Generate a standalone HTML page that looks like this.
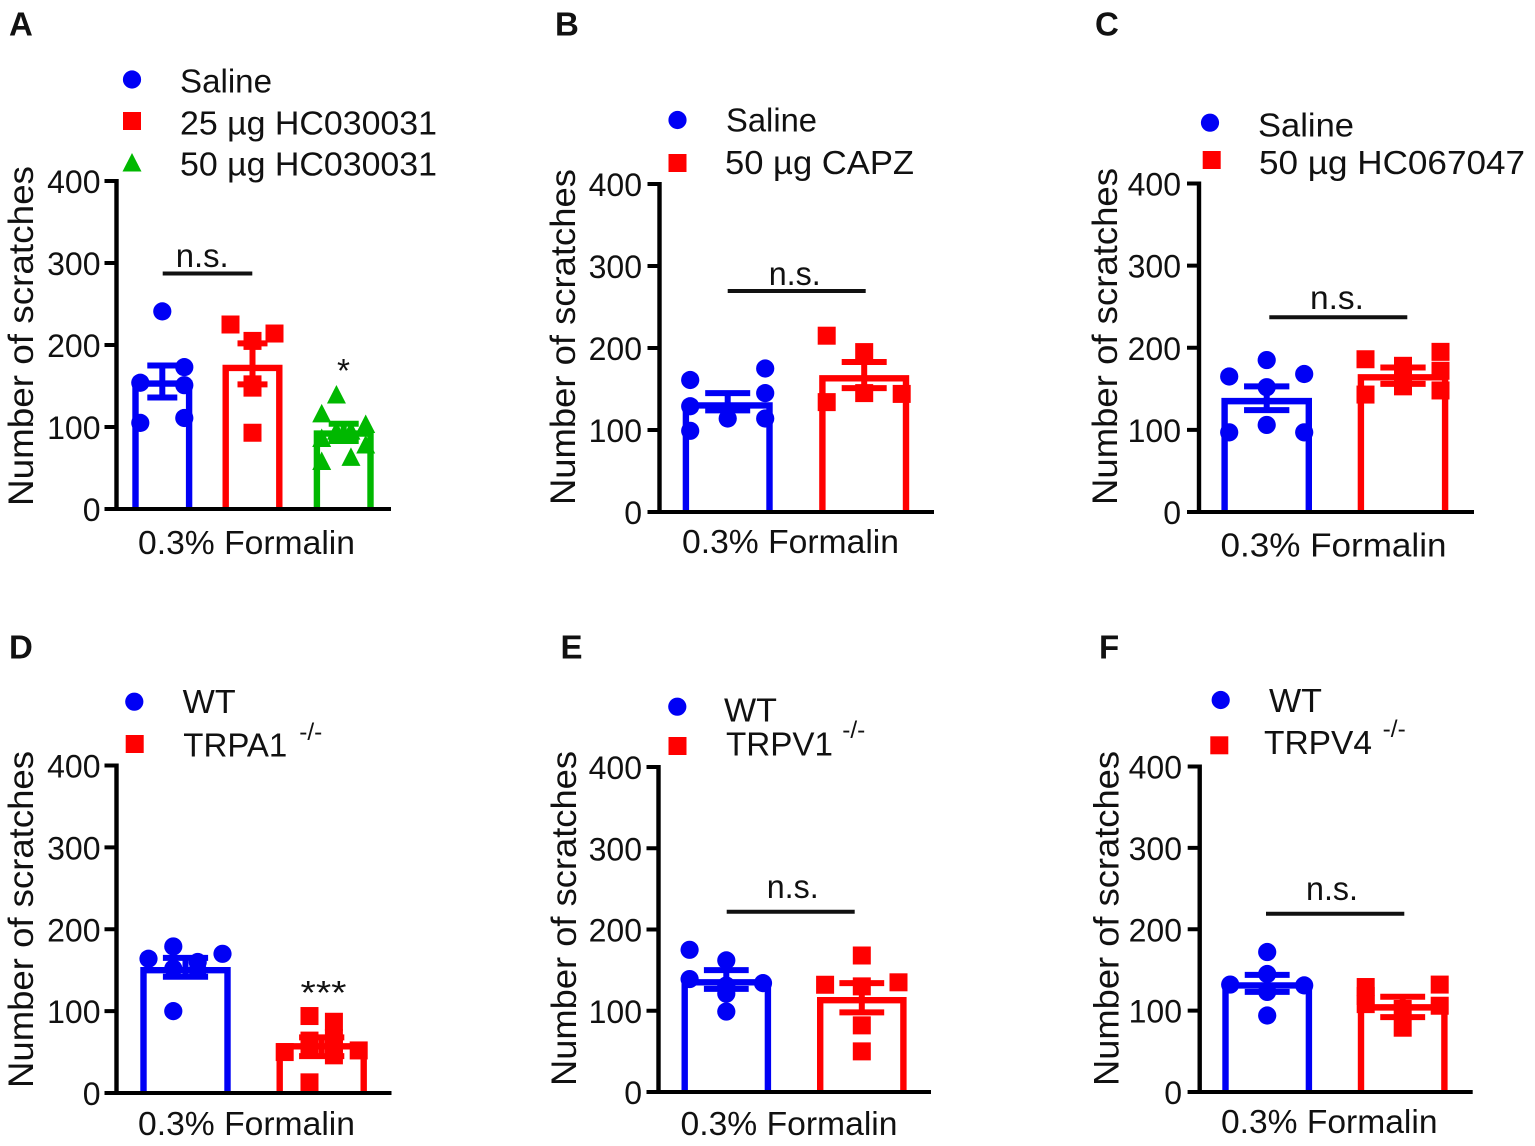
<!DOCTYPE html>
<html lang="en">
<head>
<meta charset="utf-8">
<title>Number of scratches after 0.3% formalin</title>
<style>
html,body{margin:0;padding:0;background:#fff;width:1535px;height:1146px;overflow:hidden}
svg{display:block}
text{font-family:"Liberation Sans",Arial,sans-serif;fill:#111}
</style>
</head>
<body>
<svg id="fig" xmlns="http://www.w3.org/2000/svg" width="1535" height="1146" viewBox="0 0 1535 1146"></svg>
<script>
// Shared axis data
const tickValues = [0, 100, 200, 300, 400];
const tickLabels = ['0', '100', '200', '300', '400'];

// Panel A
const aSaline = [241, 173, 154, 151, 105, 111];
const aSalineSlots = [0, 1, -1, 1, -1, 1];
const aLow = [225, 214, 205, 152, 148, 93];
const aLowSlots = [-1, 1, 0, 0, 0, 0];
const aHigh = [139, 116, 103, 95, 95, 86, 78, 58, 63];
const aHighSlots = [-0.33, -1, 1, 0.33, -0.33, -1, 1, -1, 0.33];
const aMeans = [153, 172, 92];
const aUpper = [175, 202, 104];
const aLower = [136, 152, 83];

// Panel B
const bSaline = [161, 175, 145, 129, 114, 114, 99];
const bSalineSlots = [-1, 1, 1, -1, 0, 1, -1];
const bCapz = [215, 195, 145, 144, 134];
const bCapzSlots = [-1, 0, 0, 1, -1];
const bMeans = [130, 163];
const bUpper = [145, 183];
const bLower = [124, 151];

// Panel C
const cSaline = [165, 185, 168, 152, 106, 97, 97];
const cSalineSlots = [-1, 0, 1, 0, 0, -1, 1];
const cDrug = [186, 195, 178, 168, 153, 172, 143, 148];
const cDrugSlots = [-1, 1, 0, 0, 0, 1, -1, 1];
const cMeans = [135, 164];
const cUpper = [153, 176];
const cLower = [124, 156];

// Panel D
const dWild = [164, 179, 170, 160, 152, 150, 100];
const dWildSlots = [-1, -0.33, 1, 0.33, -0.33, 0.33, -0.33];
const dKnockout = [94, 87, 64, 67, 60, 50, 52, 54, 46, 13];
const dKnockoutSlots = [-0.33, 0.33, -0.33, 0.33, 0.33, -1, 1, -0.33, 0.33, -0.33];
const dMeans = [150, 57];
const dUpper = [165, 68];
const dLower = [142, 45];

// Panel E
const eWild = [175, 162, 139, 134, 131, 121, 99];
const eWildSlots = [-1, 0, -1, 1, 0, 0, 0];
const eKnockout = [168, 132, 135, 130, 82, 50];
const eKnockoutSlots = [0, -1, 1, 0, 0, 0];
const eMeans = [135, 113];
const eUpper = [150, 134];
const eLower = [127, 98];

// Panel F
const fWild = [172, 145, 132, 131, 123, 94];
const fWildSlots = [0, 0, -1, 1, 0, 0];
const fKnockout = [129, 132, 118, 108, 106, 102, 79];
const fKnockoutSlots = [-1, 1, -1, -1, 1, 0, 0];
const fMeans = [131, 104];
const fUpper = [144, 117];
const fLower = [123, 92];

const BLUE = '#0000f5', RED = '#ff0000', GREEN = '#00b800', INK = '#000';
const svg = document.getElementById('fig');
const NS = 'http://www.w3.org/2000/svg';

function make(tag, props, parent) {
  const el = document.createElementNS(NS, tag);
  for (const k in props) el.setAttribute(k, props[k]);
  parent.appendChild(el);
  return el;
}

function label(parent, name, str, x, y, size, length, extra) {
  const props = { x: x, y: y, 'font-size': size };
  if (length) { props.textLength = length; props.lengthAdjust = 'spacingAndGlyphs'; }
  const el = make('text', Object.assign(props, extra || {}), parent);
  el.textContent = str;
  
  
  return el;
}

function marker(parent, name, shape, cx, cy, color) {
  let el;
  if (shape === 'circle') {
    el = make('circle', { cx: cx, cy: cy, r: 9.1, fill: color }, parent);
  } else if (shape === 'square') {
    el = make('rect', { x: cx - 9, y: cy - 9, width: 18, height: 18, fill: color }, parent);
  } else {
    el = make('polygon', { points: [cx, cy - 10, cx + 9.5, cy + 8.5, cx - 9.5, cy + 8.5].join(','), fill: color }, parent);
  }
  
  
  return el;
}

function drawPanel(p) {
  const g = make('g', {}, svg);
  
  

  const yScale = v => p.y0 + (p.y400 - p.y0) * v / 400;
  const xBand = i => p.centers[i];

  label(g, 'panel-letter-' + p.id, p.letter, p.letterX, p.letterY, 33, 0, { 'font-weight': 'bold', fill: '#000' });

  // Bars, error bars and points
  p.groups.forEach(function (grp, i) {
    const cx = xBand(i);
    const top = yScale(p.means[i]);
    const half = p.barHalf - 3.2;
    const bar = make('path', {
      d: 'M' + (cx - half) + ' ' + p.y0 + 'V' + top + 'H' + (cx + half) + 'V' + p.y0,
      fill: 'none', stroke: grp.color, 'stroke-width': 6.4
    }, g);
    
    

    grp.values.forEach(function (v, j) {
      marker(g, 'point-' + grp.key, grp.shape, cx + grp.slots[j] * p.slot, yScale(v), grp.color);
    });

    const hi = yScale(p.upper[i]), lo = yScale(p.lower[i]), capHalf = p.barHalf / 2;
    const err = make('path', {
      d: 'M' + cx + ' ' + hi + 'V' + lo +
         'M' + (cx - capHalf) + ' ' + hi + 'H' + (cx + capHalf) +
         'M' + (cx - capHalf) + ' ' + lo + 'H' + (cx + capHalf),
      fill: 'none', stroke: grp.color, 'stroke-width': 6
    }, g);
    
    
  });

  // Axes
  const yAxis = make('line', { x1: p.axisX, x2: p.axisX, y1: p.y400 - 2, y2: p.y0 + 2, stroke: INK, 'stroke-width': 4.4 }, g);
  
  
  const xAxis = make('line', { x1: p.axisX - 12, x2: p.axisEnd, y1: p.y0, y2: p.y0, stroke: INK, 'stroke-width': 4 }, g);
  
  

  tickValues.forEach(function (v, i) {
    const ty = yScale(v);
    const tick = make('line', { x1: p.axisX - 12, x2: p.axisX, y1: ty, y2: ty, stroke: INK, 'stroke-width': 4 }, g);
    
    
    label(g, 'y-tick-label', tickLabels[i], p.tickRight, ty + 12, 32, 0, { 'text-anchor': 'end' });
  });

  // Axis titles
  label(g, 'y-axis-title', 'Number of scratches', p.titleX, p.titleBottom, 35, p.titleLen,
    { transform: 'rotate(-90 ' + p.titleX + ' ' + p.titleBottom + ')' });
  label(g, 'x-axis-label', '0.3% Formalin', p.xLabelX, p.xLabelY, 33, p.xLabelLen);

  // Legend
  p.legend.forEach(function (e) {
    marker(g, 'legend-marker', e.shape, e.mx, e.my, e.color);
    label(g, 'legend-label', e.text, e.tx, e.ty, 33, e.len);
    if (e.sup) label(g, 'legend-superscript', '-/-', e.sup[0], e.sup[1], 24, e.sup[2]);
  });

  // Significance annotations
  if (p.ns) {
    const br = make('line', { x1: p.ns.x1, x2: p.ns.x2, y1: p.ns.y, y2: p.ns.y, stroke: '#111', 'stroke-width': 4 }, g);
    
    
    label(g, 'significance-label', 'n.s.', p.ns.tx, p.ns.ty, 33, p.ns.len);
  }
  (p.stars || []).forEach(function (s) {
    label(g, 'significance-stars', s.text, s.x, s.y, 33, s.len);
  });
}

const panels = [
  { id: 'a', letter: 'A', letterX: 9, letterY: 35.5, y0: 509, y400: 181, axisX: 116.5, axisEnd: 391, tickRight: 100.5,
    centers: [162.3, 252.5, 343.7], barHalf: 30, slot: 22,
    titleX: 33, titleBottom: 506, titleLen: 340, xLabelX: 138, xLabelY: 554, xLabelLen: 217,
    means: aMeans, upper: aUpper, lower: aLower,
    groups: [
      { key: 'saline', color: BLUE, shape: 'circle', values: aSaline, slots: aSalineSlots },
      { key: '25ug-hc030031', color: RED, shape: 'square', values: aLow, slots: aLowSlots },
      { key: '50ug-hc030031', color: GREEN, shape: 'triangle', values: aHigh, slots: aHighSlots }
    ],
    legend: [
      { shape: 'circle', color: BLUE, mx: 132, my: 79.5, text: 'Saline', tx: 180, ty: 92.5, len: 92 },
      { shape: 'square', color: RED, mx: 132, my: 121, text: '25 µg HC030031', tx: 180, ty: 134.5, len: 257 },
      { shape: 'triangle', color: GREEN, mx: 132, my: 163, text: '50 µg HC030031', tx: 180, ty: 175.5, len: 257 }
    ],
    ns: { x1: 162.7, x2: 252.3, y: 273.5, tx: 175.7, ty: 267, len: 53 },
    stars: [{ text: '*', x: 337, y: 382, len: 13 }]
  },
  { id: 'b', letter: 'B', letterX: 555, letterY: 35.5, y0: 512, y400: 184, axisX: 659.5, axisEnd: 934, tickRight: 642,
    centers: [727.7, 864.2], barHalf: 45, slot: 37.5,
    titleX: 575, titleBottom: 505, titleLen: 336, xLabelX: 682, xLabelY: 553, xLabelLen: 217,
    means: bMeans, upper: bUpper, lower: bLower,
    groups: [
      { key: 'saline', color: BLUE, shape: 'circle', values: bSaline, slots: bSalineSlots },
      { key: '50ug-capz', color: RED, shape: 'square', values: bCapz, slots: bCapzSlots }
    ],
    legend: [
      { shape: 'circle', color: BLUE, mx: 677.5, my: 120, text: 'Saline', tx: 726, ty: 131.5, len: 91 },
      { shape: 'square', color: RED, mx: 677.5, my: 163, text: '50 µg CAPZ', tx: 725, ty: 174, len: 189 }
    ],
    ns: { x1: 727.7, x2: 865.7, y: 291, tx: 768.7, ty: 285, len: 52 }
  },
  { id: 'c', letter: 'C', letterX: 1095, letterY: 35.5, y0: 512, y400: 183.5, axisX: 1199, axisEnd: 1474, tickRight: 1181,
    centers: [1266.7, 1403], barHalf: 45.3, slot: 37.5,
    titleX: 1117, titleBottom: 505, titleLen: 337, xLabelX: 1220.5, xLabelY: 556.5, xLabelLen: 226,
    means: cMeans, upper: cUpper, lower: cLower,
    groups: [
      { key: 'saline', color: BLUE, shape: 'circle', values: cSaline, slots: cSalineSlots },
      { key: '50ug-hc067047', color: RED, shape: 'square', values: cDrug, slots: cDrugSlots }
    ],
    legend: [
      { shape: 'circle', color: BLUE, mx: 1210, my: 122.7, text: 'Saline', tx: 1258, ty: 136.5, len: 96 },
      { shape: 'square', color: RED, mx: 1211.7, my: 160, text: '50 µg HC067047', tx: 1259, ty: 174, len: 266 }
    ],
    ns: { x1: 1269.3, x2: 1407.3, y: 317.3, tx: 1310, ty: 309, len: 54 }
  },
  { id: 'd', letter: 'D', letterX: 9, letterY: 658.5, y0: 1093, y400: 765.5, axisX: 116.5, axisEnd: 391.5, tickRight: 100.5,
    centers: [185.5, 321.7], barHalf: 45.2, slot: 37,
    titleX: 33, titleBottom: 1088, titleLen: 337, xLabelX: 138, xLabelY: 1135, xLabelLen: 217,
    means: dMeans, upper: dUpper, lower: dLower,
    groups: [
      { key: 'wt', color: BLUE, shape: 'circle', values: dWild, slots: dWildSlots },
      { key: 'trpa1-knockout', color: RED, shape: 'square', values: dKnockout, slots: dKnockoutSlots }
    ],
    legend: [
      { shape: 'circle', color: BLUE, mx: 134.3, my: 701.7, text: 'WT', tx: 182.7, ty: 713, len: 53 },
      { shape: 'square', color: RED, mx: 134.7, my: 744, text: 'TRPA1', tx: 183.3, ty: 756.5, len: 104, sup: [299.3, 740, 23] }
    ],
    stars: [{ text: '***', x: 300.5, y: 1004, len: 46 }]
  },
  { id: 'e', letter: 'E', letterX: 560.5, letterY: 658.5, y0: 1092, y400: 767, axisX: 658.5, axisEnd: 931, tickRight: 642,
    centers: [726.3, 861.8], barHalf: 44.8, slot: 36.7,
    titleX: 576, titleBottom: 1086, titleLen: 335, xLabelX: 680.5, xLabelY: 1135, xLabelLen: 217,
    means: eMeans, upper: eUpper, lower: eLower,
    groups: [
      { key: 'wt', color: BLUE, shape: 'circle', values: eWild, slots: eWildSlots },
      { key: 'trpv1-knockout', color: RED, shape: 'square', values: eKnockout, slots: eKnockoutSlots }
    ],
    legend: [
      { shape: 'circle', color: BLUE, mx: 677.3, my: 706.7, text: 'WT', tx: 724, ty: 721.5, len: 53 },
      { shape: 'square', color: RED, mx: 677.5, my: 746, text: 'TRPV1', tx: 726, ty: 755.5, len: 107, sup: [842.3, 738, 23] }
    ],
    ns: { x1: 726.7, x2: 854.7, y: 911.7, tx: 766.7, ty: 898, len: 52 }
  },
  { id: 'f', letter: 'F', letterX: 1099, letterY: 658.5, y0: 1092, y400: 766.5, axisX: 1199.7, axisEnd: 1472.7, tickRight: 1182,
    centers: [1267.2, 1402.7], barHalf: 44.9, slot: 37,
    titleX: 1118.5, titleBottom: 1086, titleLen: 335, xLabelX: 1221, xLabelY: 1133, xLabelLen: 216.5,
    means: fMeans, upper: fUpper, lower: fLower,
    groups: [
      { key: 'wt', color: BLUE, shape: 'circle', values: fWild, slots: fWildSlots },
      { key: 'trpv4-knockout', color: RED, shape: 'square', values: fKnockout, slots: fKnockoutSlots }
    ],
    legend: [
      { shape: 'circle', color: BLUE, mx: 1220.7, my: 700, text: 'WT', tx: 1269, ty: 712, len: 53 },
      { shape: 'square', color: RED, mx: 1219.3, my: 745.3, text: 'TRPV4', tx: 1264, ty: 754, len: 108, sup: [1382.7, 737, 23] }
    ],
    ns: { x1: 1266, x2: 1404.3, y: 913.7, tx: 1306, ty: 900, len: 52 }
  }
];

panels.forEach(drawPanel);
</script>
</body>
</html>
